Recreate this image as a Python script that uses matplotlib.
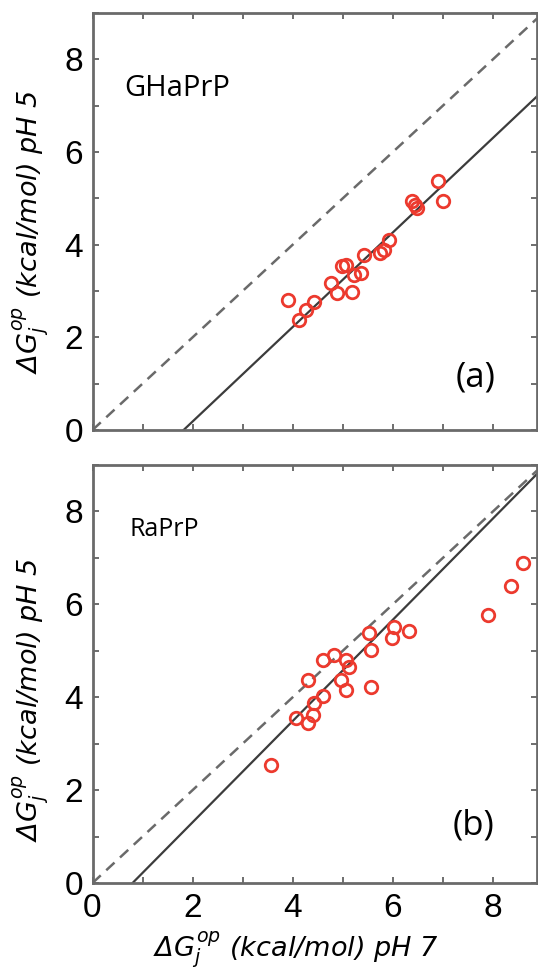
import matplotlib
matplotlib.use("Agg")
import matplotlib.pyplot as plt
import numpy as np
from matplotlib.ticker import MultipleLocator

plt.rcParams['font.family'] = 'Liberation Sans'
plt.rcParams['mathtext.fontset'] = 'custom'
plt.rcParams['mathtext.it'] = 'DejaVu Sans:italic'
plt.rcParams['mathtext.rm'] = 'DejaVu Sans:italic'

# opening free energies, pH 7 (x) vs pH 5 (y)
gha_ph7 = [3.90, 4.13, 4.27, 4.43, 4.76, 4.89, 4.99, 5.06, 5.19, 5.22,
           5.36, 5.42, 5.75, 5.82, 5.92, 6.38, 6.45, 6.48, 6.91, 7.01]
gha_ph5 = [2.81, 2.38, 2.59, 2.77, 3.17, 2.96, 3.53, 3.57, 2.97, 3.35,
           3.39, 3.78, 3.82, 3.89, 4.11, 4.94, 4.86, 4.79, 5.37, 4.94]

ra_ph7 = [3.57, 4.07, 4.30, 4.40, 4.43, 4.60, 4.30, 4.60, 4.83, 4.96, 5.06,
          5.06, 5.13, 5.56, 5.56, 5.52, 5.99, 6.02, 6.32, 7.90, 8.37, 8.60]
ra_ph5 = [2.54, 3.55, 3.44, 3.62, 3.87, 4.02, 4.38, 4.81, 4.91, 4.38, 4.16,
          4.81, 4.66, 4.23, 5.02, 5.38, 5.27, 5.52, 5.42, 5.78, 6.39, 6.89]

# linear fits: y = slope * (x - x0)
gha_fit = (1.02, 1.82)
ra_fit = (1.09, 0.80)

names = ['GHaPrP', 'RaPrP']
tags = ['(a)', '(b)']
xticks = [0, 2, 4, 6, 8]
yticks = [0, 2, 4, 6, 8]

red = '#ec3a2e'
W, H = 538, 976
fig = plt.figure(figsize=(W / 100, H / 100), dpi=100)

boxes = [(92.5, 13, 537, 430), (92.5, 465, 537, 883)]
panels = [(gha_ph7, gha_ph5, gha_fit), (ra_ph7, ra_ph5, ra_fit)]
ylab_y = [232, 700]

for i, ((x0, y0, x1, y1), (xs, ys, fit)) in enumerate(zip(boxes, panels)):
    ax = fig.add_axes([x0 / W, 1 - y1 / H, (x1 - x0) / W, (y1 - y0) / H])
    xmax = 8.88
    ax.set_xlim(0, xmax)
    ax.set_ylim(0, 9)

    xx = np.array([0, xmax])
    ax.plot(xx, xx, color='#6a6a6a', lw=1.8, dashes=(4.5, 3))
    slope, xint = fit
    ax.plot(xx, slope * (xx - xint), color='#3c3c3c', lw=1.6)

    ax.plot(xs, ys, 'o', mfc='none', mec=red, ms=9, mew=2)

    ax.xaxis.set_major_locator(MultipleLocator(2))
    ax.xaxis.set_minor_locator(MultipleLocator(1))
    ax.yaxis.set_major_locator(MultipleLocator(2))
    ax.yaxis.set_minor_locator(MultipleLocator(1))
    ax.set_yticks(yticks)
    ax.tick_params(which='both', direction='in', top=True, right=True,
                   length=4, width=1.2, color='#555555', labelsize=24,
                   pad=7)
    if i == 0:
        ax.tick_params(labelbottom=False)
    else:
        ax.set_xticks(xticks)
    for s in ax.spines.values():
        s.set_color('#6a6a6a')
        s.set_linewidth(2)

    lab = r'$\Delta G_j^{op}$ (kcal/mol) pH 5'
    fig.text(31 / W, 1 - ylab_y[i] / H, lab, rotation=90, family='DejaVu Sans',
             ha='center', va='center', fontsize=19.5, style='italic')

fig.text(124 / W, 1 - 89 / H, names[0], fontsize=21, family='Open Sans',
         ha='left', va='center')
fig.text(129 / W, 1 - 530 / H, names[1], fontsize=18, family='Open Sans',
         ha='left', va='center')
fig.text(476 / W, 1 - 377 / H, tags[0], fontsize=25, family='Open Sans',
         ha='center', va='center')
fig.text(474 / W, 1 - 826 / H, tags[1], fontsize=25, family='Open Sans',
         ha='center', va='center')

fig.text(296 / W, 1 - 950 / H, r'$\Delta G_j^{op}$ (kcal/mol) pH 7',
         family='DejaVu Sans', ha='center', va='center', fontsize=19.5,
         style='italic')

fig.savefig('out.png', dpi=100)
